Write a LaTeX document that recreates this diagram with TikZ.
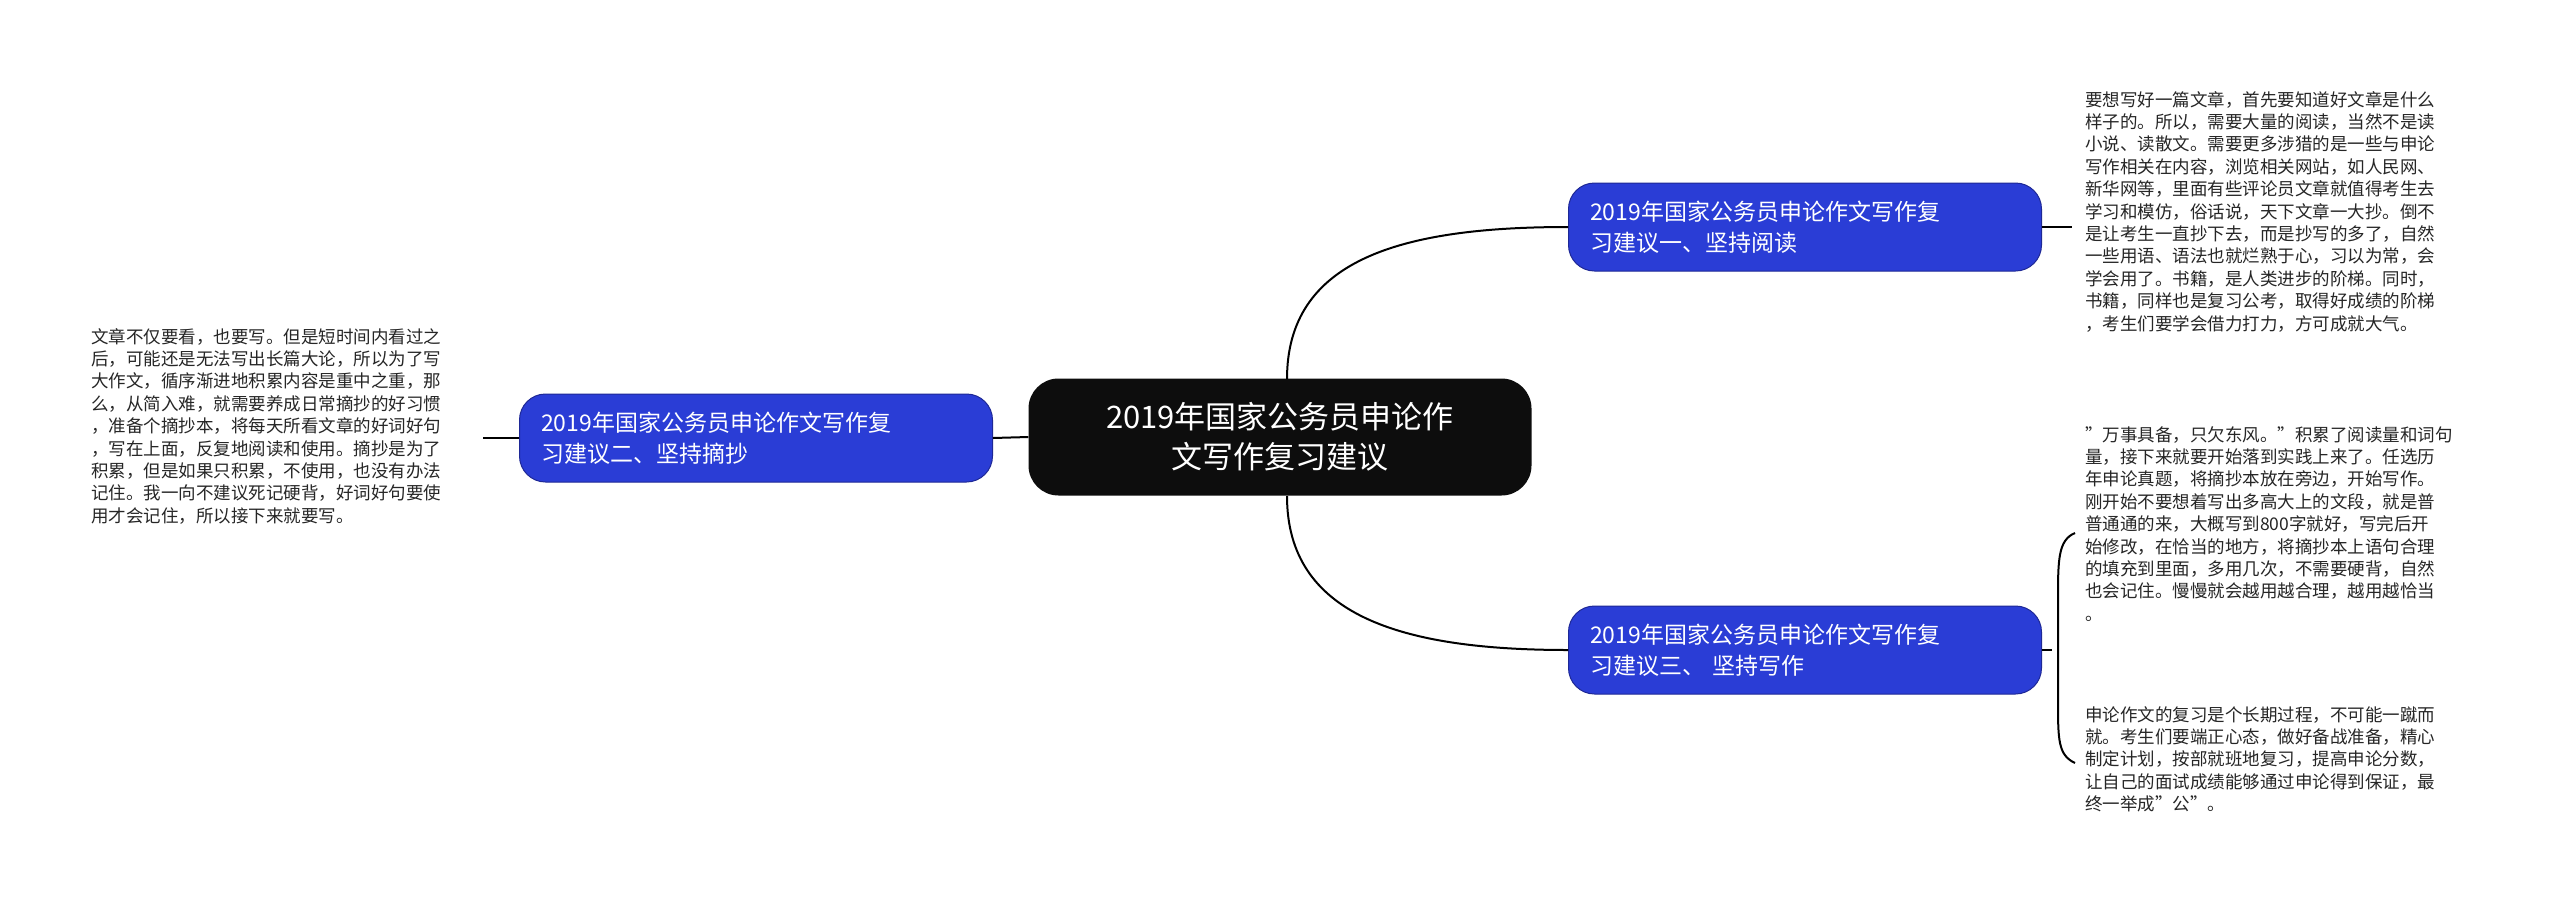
\documentclass[tikz,border=0pt]{standalone}
\usepackage{fontspec}
\setmainfont{Noto Sans CJK SC}
\begin{document}
\begin{tikzpicture}[x=1pt,y=-1pt,
  central/.style={fill=black!95,text=white,rounded corners=30pt,minimum width=503pt,minimum height=117pt,align=center,font=\fontsize{31}{40}\selectfont},
  sub/.style={fill=blue!70!black!85,fill={rgb,255:red,42;green,61;blue,214},draw={rgb,255:red,30;green,40;blue,150},line width=1pt,text=white,rounded corners=26pt,minimum width=473pt,minimum height=88pt,align=left,font=\fontsize{23}{31}\selectfont,text width=430pt},
  body/.style={align=left,anchor=north west,inner sep=0pt,font=\fontsize{17.5}{22.4}\selectfont,text=black!85},
  conn/.style={draw=black,line width=2pt}]
\useasboundingbox (0,0) rectangle (2560,919);
\fill[white] (0,0) rectangle (2560,919);
\node[central] (c) at (1280,437) {2019年国家公务员申论作\\文写作复习建议};
\node[sub] (r1) at (1805,227) {2019年国家公务员申论作文写作复\\习建议一、坚持阅读};
\node[sub] (l1) at (756,438) {2019年国家公务员申论作文写作复\\习建议二、坚持摘抄};
\node[sub] (r2) at (1805,650) {2019年国家公务员申论作文写作复\\习建议三、 坚持写作};
\node[body] (t1) at (2085,91) {要想写好一篇文章，首先要知道好文章是什么\\样子的。所以，需要大量的阅读，当然不是读\\小说、读散文。需要更多涉猎的是一些与申论\\写作相关在内容，浏览相关网站，如人民网、\\新华网等，里面有些评论员文章就值得考生去\\学习和模仿，俗话说，天下文章一大抄。倒不\\是让考生一直抄下去，而是抄写的多了，自然\\一些用语、语法也就烂熟于心，习以为常，会\\学会用了。书籍，是人类进步的阶梯。同时，\\书籍，同样也是复习公考，取得好成绩的阶梯\\，考生们要学会借力打力，方可成就大气。};
\node[body] (t2) at (91,328) {文章不仅要看，也要写。但是短时间内看过之\\后，可能还是无法写出长篇大论，所以为了写\\大作文，循序渐进地积累内容是重中之重，那\\么，从简入难，就需要养成日常摘抄的好习惯\\，准备个摘抄本，将每天所看文章的好词好句\\，写在上面，反复地阅读和使用。摘抄是为了\\积累，但是如果只积累，不使用，也没有办法\\记住。我一向不建议死记硬背，好词好句要使\\用才会记住，所以接下来就要写。};
\node[body] (t3) at (2085,426) {"万事具备，只欠东风。"积累了阅读量和词句\\量，接下来就要开始落到实践上来了。任选历\\年申论真题，将摘抄本放在旁边，开始写作。\\刚开始不要想着写出多高大上的文段，就是普\\普通通的来，大概写到800字就好，写完后开\\始修改，在恰当的地方，将摘抄本上语句合理\\的填充到里面，多用几次，不需要硬背，自然\\也会记住。慢慢就会越用越合理，越用越恰当\\。};
\node[body] (t4) at (2085,706) {申论作文的复习是个长期过程，不可能一蹴而\\就。考生们要端正心态，做好备战准备，精心\\制定计划，按部就班地复习，提高申论分数，\\让自己的面试成绩能够通过申论得到保证，最\\终一举成"公"。};
\coordinate (a1) at (1287,379);
\coordinate (a2) at (1287,496);
\draw[conn] (a1) .. controls (1287,260) and (1400,227) .. (r1.west);
\draw[conn] (a2) .. controls (1287,615) and (1400,650) .. (r2.west);
\draw[conn] (c.west) -- (l1.east);
\coordinate (lt) at (483,438);
\draw[conn] (l1.west) -- (lt);
\coordinate (rt) at (2072,227);
\draw[conn] (r1.east) -- (rt);
\coordinate (b1) at (2075,533);
\coordinate (b2) at (2075,763);
\draw[conn] (r2.east) -- (2052,650);
\draw[conn] (b1) .. controls (2058,540) and (2058,560) .. (2058,600) -- (2058,700) .. controls (2058,740) and (2058,755) .. (b2);
\end{tikzpicture}
\end{document}
